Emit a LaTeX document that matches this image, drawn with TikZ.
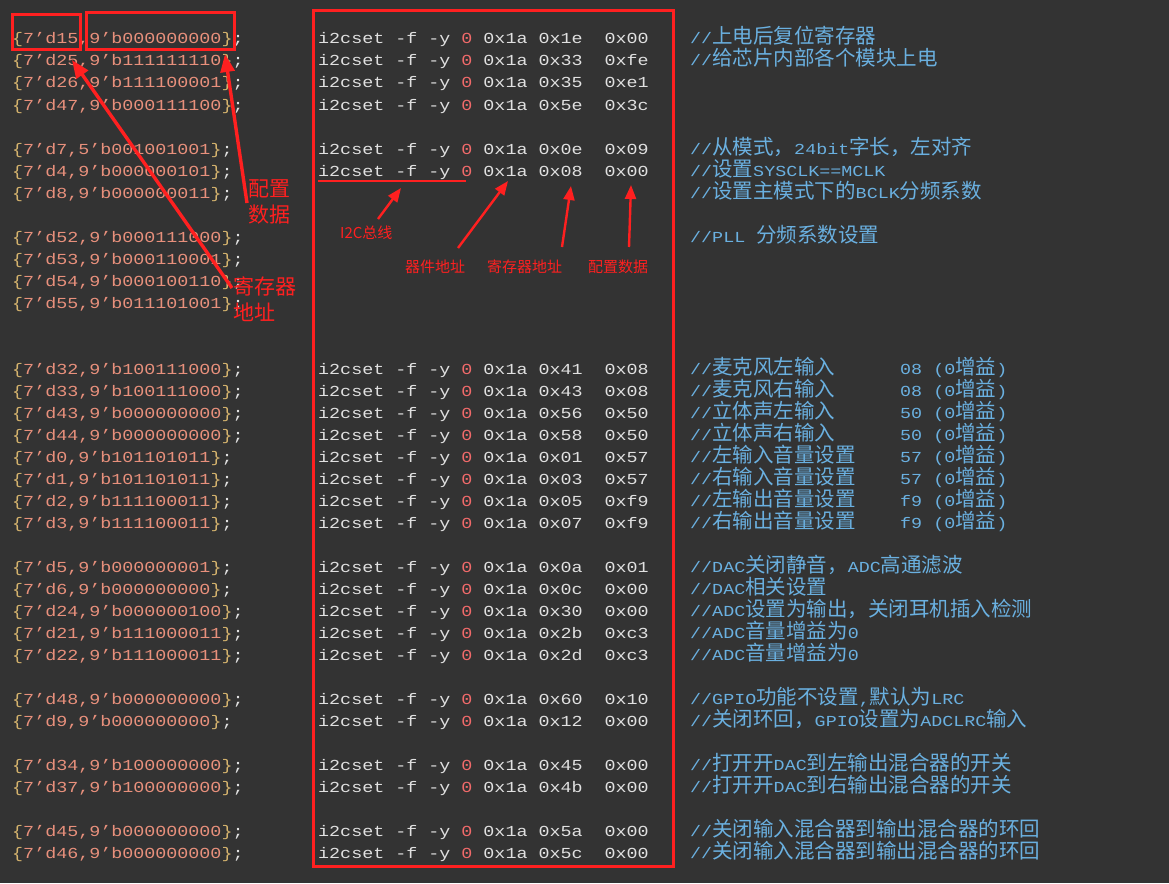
\documentclass[tikz,border=0pt]{standalone}
\usepackage{fontspec}
\usetikzlibrary{arrows.meta}
\newfontfamily\mono[FakeStretch=1.2]{Liberation Mono}
\newfontfamily\cjk{Noto Sans CJK SC}
\definecolor{bg}{HTML}{333333}
\definecolor{cy}{HTML}{D6B46E}
\definecolor{cs}{HTML}{E8907C}
\definecolor{cw}{HTML}{E0E0E0}
\definecolor{cr}{HTML}{F06A6A}
\definecolor{cc}{HTML}{6AB0E0}
\definecolor{rd}{HTML}{FF2020}
\newcommand\cj[1]{{\cjk\fontsize{20.5}{22}\selectfont #1}}
\newcommand\yy[1]{\pgfmathsetmacro\ry{44+22*#1}}
\newcommand\lrow[3]{\yy{#1}\node[txt] (l#1) at (12,\ry) {{\color{cy}\{}{\color{cs}7’#2,#3}{\color{cy}\}}{\color{cw};}};}
\newcommand\crow[3]{\yy{#1}\node[txt,cw] (c#1) at (318,\ry) {i2cset~-f~-y~{\color{cr}0}~0x1a~#2~~#3};}
\newcommand\mrow[2]{\yy{#1}\node[txt,cc] (m#1) at (690,\ry) {//#2};}
\newcommand\grow[2]{\yy{#1}\node[txt,cc] (g#1) at (900,\ry) {#2~(0\cj{增益})};}
\begin{document}
\begin{tikzpicture}[x=1pt,y=-1pt,
  txt/.style={anchor=base west,inner sep=0pt,font=\mono\fontsize{15.3}{22}\selectfont},
  box/.style={draw=rd,line width=3pt},
  lab/.style={text=rd,inner sep=0pt,font=\cjk\fontsize{21}{26}\selectfont,align=left},
  slab/.style={text=rd,inner sep=0pt,font=\cjk\fontsize{15}{16}\selectfont},
  arr/.style={draw=rd,line width=3.4pt,-{Triangle[length=18pt,width=14pt]}},
  sarr/.style={draw=rd,line width=2.4pt,-{Triangle[length=14pt,width=11pt]}}]
\fill[bg] (0,0) rectangle (1169,883);
\useasboundingbox (0,0) rectangle (1169,883);
% left column
\lrow{0}{d15}{9’b000000000}
\lrow{1}{d25}{9’b111111110}
\lrow{2}{d26}{9’b111100001}
\lrow{3}{d47}{9’b000111100}
\lrow{5}{d7}{5’b001001001}
\lrow{6}{d4}{9’b000000101}
\lrow{7}{d8}{9’b000000011}
\lrow{9}{d52}{9’b000111000}
\lrow{10}{d53}{9’b000110001}
\lrow{11}{d54}{9’b000100110}
\lrow{12}{d55}{9’b011101001}
\lrow{15}{d32}{9’b100111000}
\lrow{16}{d33}{9’b100111000}
\lrow{17}{d43}{9’b000000000}
\lrow{18}{d44}{9’b000000000}
\lrow{19}{d0}{9’b101101011}
\lrow{20}{d1}{9’b101101011}
\lrow{21}{d2}{9’b111100011}
\lrow{22}{d3}{9’b111100011}
\lrow{24}{d5}{9’b000000001}
\lrow{25}{d6}{9’b000000000}
\lrow{26}{d24}{9’b000000100}
\lrow{27}{d21}{9’b111000011}
\lrow{28}{d22}{9’b111000011}
\lrow{30}{d48}{9’b000000000}
\lrow{31}{d9}{9’b000000000}
\lrow{33}{d34}{9’b100000000}
\lrow{34}{d37}{9’b100000000}
\lrow{36}{d45}{9’b000000000}
\lrow{37}{d46}{9’b000000000}
% code column
\crow{0}{0x1e}{0x00}
\crow{1}{0x33}{0xfe}
\crow{2}{0x35}{0xe1}
\crow{3}{0x5e}{0x3c}
\crow{5}{0x0e}{0x09}
\crow{6}{0x08}{0x00}
\crow{15}{0x41}{0x08}
\crow{16}{0x43}{0x08}
\crow{17}{0x56}{0x50}
\crow{18}{0x58}{0x50}
\crow{19}{0x01}{0x57}
\crow{20}{0x03}{0x57}
\crow{21}{0x05}{0xf9}
\crow{22}{0x07}{0xf9}
\crow{24}{0x0a}{0x01}
\crow{25}{0x0c}{0x00}
\crow{26}{0x30}{0x00}
\crow{27}{0x2b}{0xc3}
\crow{28}{0x2d}{0xc3}
\crow{30}{0x60}{0x10}
\crow{31}{0x12}{0x00}
\crow{33}{0x45}{0x00}
\crow{34}{0x4b}{0x00}
\crow{36}{0x5a}{0x00}
\crow{37}{0x5c}{0x00}
% comments
\mrow{0}{\cj{上电后复位寄存器}}
\mrow{1}{\cj{给芯片内部各个模块上电}}
\mrow{5}{\cj{从模式，}24bit\cj{字长，左对齐}}
\mrow{6}{\cj{设置}SYSCLK==MCLK}
\mrow{7}{\cj{设置主模式下的}BCLK\cj{分频系数}}
\mrow{9}{PLL~\cj{分频系数设置}}
\mrow{15}{\cj{麦克风左输入}}\grow{15}{08}
\mrow{16}{\cj{麦克风右输入}}\grow{16}{08}
\mrow{17}{\cj{立体声左输入}}\grow{17}{50}
\mrow{18}{\cj{立体声右输入}}\grow{18}{50}
\mrow{19}{\cj{左输入音量设置}}\grow{19}{57}
\mrow{20}{\cj{右输入音量设置}}\grow{20}{57}
\mrow{21}{\cj{左输出音量设置}}\grow{21}{f9}
\mrow{22}{\cj{右输出音量设置}}\grow{22}{f9}
\mrow{24}{DAC\cj{关闭静音，}ADC\cj{高通滤波}}
\mrow{25}{DAC\cj{相关设置}}
\mrow{26}{ADC\cj{设置为输出，关闭耳机插入检测}}
\mrow{27}{ADC\cj{音量增益为}0}
\mrow{28}{ADC\cj{音量增益为}0}
\mrow{30}{GPIO\cj{功能不设置}{,}\cj{默认为}LRC}
\mrow{31}{\cj{关闭环回，}GPIO\cj{设置为}ADCLRC\cj{输入}}
\mrow{33}{\cj{打开开}DAC\cj{到左输出混合器的开关}}
\mrow{34}{\cj{打开开}DAC\cj{到右输出混合器的开关}}
\mrow{36}{\cj{关闭输入混合器到输出混合器的环回}}
\mrow{37}{\cj{关闭输入混合器到输出混合器的环回}}
% boxes
\draw[box] (12,15) rectangle (80,50);
\draw[box] (86,13) rectangle (234,50);
\draw[box] (313,11) rectangle (673,866);
% annotation labels
\node[lab,anchor=north west] (cfg) at (248,179) {配置\\数据};
\node[lab,anchor=north west] (reg) at (233,277) {寄存器\\地址};
\node[slab,anchor=west] (i2c) at (340,233) {I2C总线};
\node[slab,anchor=west] (dev) at (405,267) {器件地址};
\node[slab,anchor=west] (ra) at (487,267) {寄存器地址};
\node[slab,anchor=west] (cd) at (588,267) {配置数据};
\coordinate (u1) at (318,181);
\coordinate (u2) at (466,181);
\draw[rd,line width=1.2pt] (u1) -- (u2);
\coordinate (t1) at (225,54);
\coordinate (t2) at (72,60);
\coordinate (t3) at (401,188);
\coordinate (t4) at (508,181);
\coordinate (t5) at (571,186);
\coordinate (t6) at (631,185);
\draw[arr] (247,203) -- (t1);
\draw[arr] (232,288) -- (t2);
\draw[sarr] (378,219) -- (t3);
\draw[sarr] (458,248) -- (t4);
\draw[sarr] (562,247) -- (t5);
\draw[sarr] (629,247) -- (t6);
\end{tikzpicture}
\end{document}
